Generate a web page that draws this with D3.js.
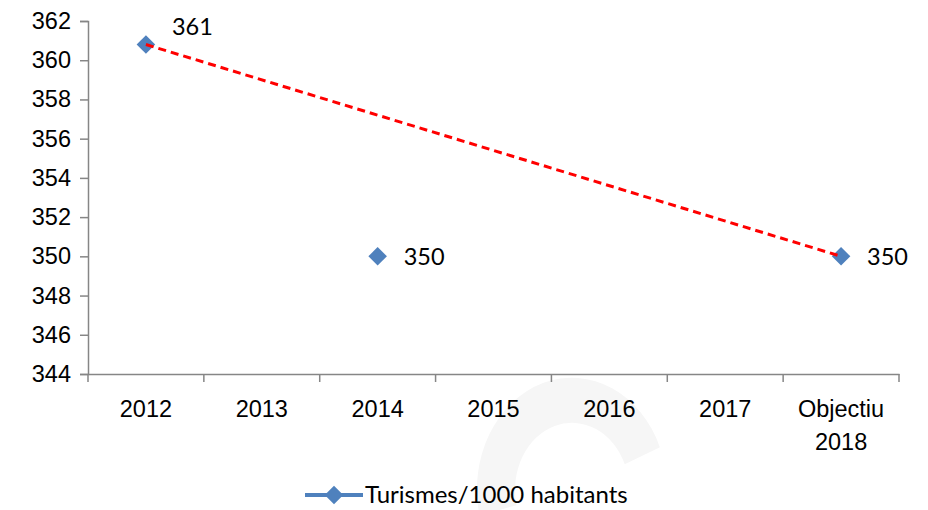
<!DOCTYPE html>
<html>
<head>
<meta charset="utf-8">
<script src="https://cdn.jsdelivr.net/npm/d3@7"></script>
<style>
  body { margin: 0; background: #fff; }
  svg { display: block; font-family: Lato, "Open Sans", sans-serif; }
</style>
</head>
<body>
<svg id="chart" width="928" height="510"></svg>
<script>
const categories = ["2012", "2013", "2014", "2015", "2016", "2017", "Objectiu 2018"];
const values = [360.8, null, 350, null, null, null, 350];
const labels = ["361", null, "350", null, null, null, "350"];
const yTicks = [344, 346, 348, 350, 352, 354, 356, 358, 360, 362];
const seriesName = "Turismes/1000 habitants";

const width = 928;
const height = 510;
const margin = { top: 21, right: 29, bottom: 136, left: 88 };

const svg = d3.select("#chart");

// faint watermark shape behind the chart
svg.append("path")
  .attr("transform", "translate(572, 490) scale(95, 112)")
  .attr("d", d3.arc()({ innerRadius: 0.6, outerRadius: 1, startAngle: -1.8, endAngle: 1.18 }))
  .attr("fill", "#f6f6f6");

const x = d3.scaleBand()
  .domain(categories)
  .range([margin.left, width - margin.right]);

const y = d3.scaleLinear()
  .domain([344, 362])
  .range([height - margin.bottom, margin.top]);

const axisColor = "#868686";
const fontSize = "23.5px";

// Y axis
const yAxis = svg.append("g")
  .attr("transform", `translate(${margin.left},0)`)
  .call(d3.axisLeft(y).tickValues(yTicks).tickSize(8).tickPadding(9));
yAxis.select(".domain").attr("stroke", axisColor).attr("stroke-width", 1.5);
yAxis.selectAll(".tick line").attr("stroke", axisColor).attr("stroke-width", 1.5);
yAxis.selectAll(".tick text")
  .attr("fill", "#000")
  .style("font-size", fontSize);

// X axis
const xAxis = svg.append("g")
  .attr("transform", `translate(0,${height - margin.bottom})`)
  .call(d3.axisBottom(x).tickSize(0).tickFormat(""));
xAxis.select(".domain").attr("stroke", axisColor).attr("stroke-width", 1.5);

// tick marks at band boundaries
const bounds = categories.map(c => x(c)).concat([x.range()[1]]);
xAxis.selectAll(".bound")
  .data(bounds)
  .enter()
  .append("line")
  .attr("class", "bound")
  .attr("x1", d => d)
  .attr("x2", d => d)
  .attr("y1", 0)
  .attr("y2", 8)
  .attr("stroke", axisColor)
  .attr("stroke-width", 1.5);

// category labels (wrap on space for the last one)
const catLabels = xAxis.selectAll(".cat")
  .data(categories)
  .enter()
  .append("text")
  .attr("class", "cat")
  .attr("x", d => x(d) + x.bandwidth() / 2)
  .attr("y", 43)
  .attr("text-anchor", "middle")
  .attr("fill", "#000")
  .style("font-size", fontSize);
catLabels.each(function (d) {
  const words = /^\d+$/.test(d) ? [d] : d.split(" ");
  d3.select(this).selectAll("tspan")
    .data(words)
    .enter()
    .append("tspan")
    .attr("x", x(d) + x.bandwidth() / 2)
    .attr("dy", (w, i) => i === 0 ? 0 : 33)
    .text(w => w);
});

const cx = c => x(c) + x.bandwidth() / 2;
const points = categories
  .map((c, i) => ({ cat: c, value: values[i], label: labels[i], i }))
  .filter(d => d.value !== null);

// markers
const diamond = d3.symbol().type(d3.symbolDiamond2).size(220);
svg.selectAll(".pt")
  .data(points)
  .enter()
  .append("path")
  .attr("class", "pt")
  .attr("d", diamond)
  .attr("transform", d => `translate(${cx(d.cat)},${y(d.value)})`)
  .attr("fill", "#4f81bd");

// red dashed trend line from first to last point
const first = points[0];
const last = points[points.length - 1];
svg.append("line")
  .attr("x1", cx(first.cat))
  .attr("y1", y(first.value))
  .attr("x2", cx(last.cat))
  .attr("y2", y(last.value))
  .attr("stroke", "#ff0000")
  .attr("stroke-width", 3)
  .attr("stroke-dasharray", "8,5");

// data labels (the first one sits above the trend line)
svg.selectAll(".lbl")
  .data(points)
  .enter()
  .append("text")
  .attr("class", "lbl")
  .attr("x", d => cx(d.cat) + 26)
  .attr("y", d => d.i === 0 ? y(d.value) - 18 : y(d.value))
  .attr("dy", "0.35em")
  .attr("fill", "#000")
  .style("font-size", fontSize)
  .text(d => d.label);

// legend
const legend = svg.append("g").attr("transform", "translate(305, 495)");
legend.append("line")
  .attr("x1", 0).attr("x2", 58)
  .attr("stroke", "#4f81bd").attr("stroke-width", 4);
legend.append("path")
  .attr("d", diamond)
  .attr("transform", "translate(29,0)")
  .attr("fill", "#4f81bd");
legend.append("text")
  .attr("x", 60)
  .attr("dy", "0.35em")
  .attr("fill", "#000")
  .style("font-size", "24px")
  .text(seriesName);
</script>
</body>
</html>
